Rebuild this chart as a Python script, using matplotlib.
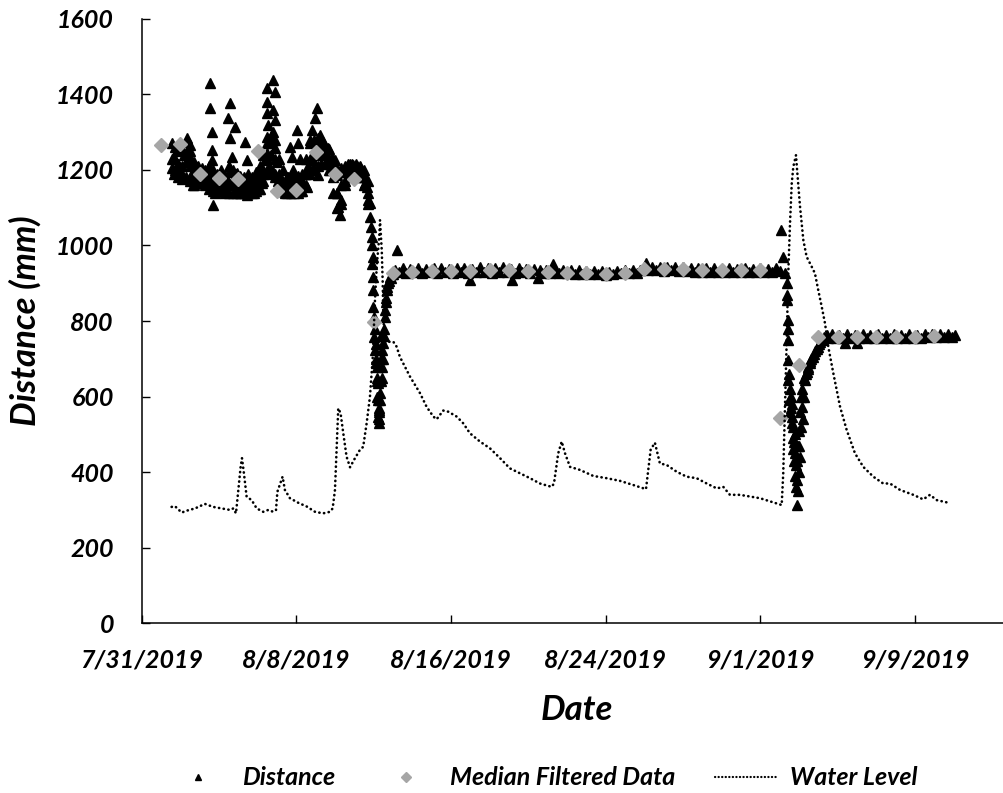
import datetime as dt
import matplotlib
matplotlib.use("Agg")
import matplotlib.pyplot as plt
from matplotlib.lines import Line2D

plt.rcParams['font.family'] = ['Lato', 'DejaVu Sans']
plt.rcParams['font.weight'] = 'bold'
plt.rcParams['font.style'] = 'italic'
plt.rcParams['axes.labelweight'] = 'bold'

# day offsets are days after 7/31/2019 00:00
start = dt.date(2019, 7, 31)
tick_days = [0, 8, 16, 24, 32, 40]

# Distance (triangles) as (day, mm)
early = [(1.55, 1270), (1.55, 1230), (1.55, 1204), (1.65, 1190), (1.81, 1252), (1.9, 1215),
         (2.0, 1200), (2.1, 1180), (2.2, 1240), (2.33, 1283), (2.4, 1250), (2.5, 1266),
         (2.5, 1235), (2.59, 1191), (2.67, 1160), (2.75, 1175), (2.85, 1208), (2.95, 1185),
         (3.1, 1186), (3.2, 1165), (3.36, 1173), (3.45, 1200), (3.53, 1429), (3.53, 1363),
         (3.62, 1301), (3.62, 1252), (3.62, 1226), (3.65, 1180), (3.70, 1107), (3.62, 1155),
         (3.8, 1140), (3.96, 1182), (4.05, 1150), (4.1, 1200), (4.22, 1164), (4.3, 1145),
         (4.4, 1170), (4.48, 1336), (4.57, 1376), (4.57, 1283), (4.5, 1210), (4.66, 1235),
         (4.74, 1160), (4.83, 1314), (4.91, 1191), (5.0, 1150), (5.09, 1182), (5.09, 1138),
         (5.2, 1160), (5.34, 1274), (5.43, 1226), (5.43, 1133), (5.5, 1190), (5.6, 1145),
         (5.69, 1151), (5.8, 1140), (5.86, 1169), (5.95, 1180), (6.05, 1150), (6.12, 1200),
         (6.2, 1165), (6.3, 1190), (6.38, 1226), (6.47, 1416), (6.47, 1380), (6.47, 1350),
         (6.47, 1288), (6.47, 1244), (6.55, 1319), (6.6, 1270), (6.6, 1210), (6.7, 1240),
         (6.81, 1438), (6.81, 1358), (6.81, 1301), (6.81, 1279), (6.81, 1195), (6.9, 1407),
         (6.9, 1332), (6.9, 1257), (6.9, 1182), (7.0, 1220), (7.05, 1170), (7.16, 1164),
         (7.25, 1145), (7.33, 1151), (7.42, 1140), (7.5, 1160), (7.58, 1182), (7.67, 1261),
         (7.76, 1235), (7.85, 1200), (7.93, 1150), (8.02, 1305), (8.02, 1155), (8.1, 1270),
         (8.2, 1230), (8.25, 1145), (8.36, 1164), (8.45, 1190), (8.54, 1155), (8.6, 1210),
         (8.71, 1279), (8.79, 1305), (8.88, 1226), (8.88, 1204), (8.97, 1336), (9.05, 1363),
         (9.05, 1260), (9.14, 1186), (9.22, 1292), (9.3, 1240), (9.39, 1274), (9.5, 1245),
         (9.55, 1220), (9.65, 1257), (9.75, 1200), (9.83, 1235), (9.9, 1210), (10.0, 1226),
         (10.09, 1186), (10.09, 1138), (10.17, 1102), (10.26, 1080), (10.3, 1120), (10.43, 1195),
         (10.5, 1160), (10.6, 1208), (10.7, 1185), (10.8, 1215), (10.95, 1213), (11.05, 1190),
         (11.15, 1210), (11.29, 1208), (11.35, 1180), (11.46, 1191), (11.55, 1164), (11.64, 1155),
         (11.72, 1120), (11.81, 1076), (11.81, 1111), (11.9, 1023), (11.85, 1050), (11.9, 1000),
         (11.92, 950)]

# the dense black body of the first week: low / middle / high edge of the mass
early_core = [(1.7, 1200), (1.7, 1230), (1.7, 1260), (1.9, 1180), (1.9, 1215), (1.9, 1250),
              (2.1, 1175), (2.1, 1210), (2.1, 1255), (2.3, 1180), (2.3, 1220), (2.3, 1275),
              (2.5, 1170), (2.5, 1210), (2.5, 1250), (2.7, 1160), (2.7, 1190), (2.7, 1220),
              (2.9, 1165), (2.9, 1190), (2.9, 1210), (3.1, 1165), (3.1, 1185), (3.1, 1205),
              (3.3, 1160), (3.3, 1180), (3.3, 1200), (3.5, 1150), (3.5, 1175), (3.5, 1210),
              (3.7, 1145), (3.7, 1170), (3.7, 1200), (3.9, 1145), (3.9, 1165), (3.9, 1190),
              (4.1, 1145), (4.1, 1165), (4.1, 1185), (4.3, 1140), (4.3, 1160), (4.3, 1185),
              (4.5, 1140), (4.5, 1165), (4.5, 1195), (4.7, 1140), (4.7, 1170), (4.7, 1200),
              (4.9, 1138), (4.9, 1160), (4.9, 1190), (5.1, 1138), (5.1, 1160), (5.1, 1185),
              (5.3, 1140), (5.3, 1160), (5.3, 1180), (5.5, 1140), (5.5, 1155), (5.5, 1175),
              (5.7, 1140), (5.7, 1160), (5.7, 1180), (5.9, 1145), (5.9, 1170), (5.9, 1195),
              (6.1, 1150), (6.1, 1180), (6.1, 1210), (6.3, 1170), (6.3, 1200), (6.3, 1240),
              (6.5, 1190), (6.5, 1230), (6.5, 1270), (6.7, 1200), (6.7, 1240), (6.7, 1290),
              (6.9, 1190), (6.9, 1230), (6.9, 1280), (7.1, 1160), (7.1, 1190), (7.1, 1230),
              (7.3, 1145), (7.3, 1165), (7.3, 1200), (7.5, 1140), (7.5, 1160), (7.5, 1180),
              (7.7, 1140), (7.7, 1160), (7.7, 1185), (7.9, 1140), (7.9, 1160), (7.9, 1180),
              (8.1, 1140), (8.1, 1160), (8.1, 1185), (8.3, 1145), (8.3, 1165), (8.3, 1190),
              (8.5, 1160), (8.5, 1190), (8.5, 1230), (8.7, 1190), (8.7, 1230), (8.7, 1270),
              (8.9, 1200), (8.9, 1240), (8.9, 1280), (9.1, 1210), (9.1, 1245), (9.1, 1285),
              (9.3, 1215), (9.3, 1245), (9.3, 1275), (9.5, 1215), (9.5, 1240), (9.5, 1265),
              (9.7, 1200), (9.7, 1230), (9.7, 1255), (9.9, 1140), (9.9, 1180), (9.9, 1220),
              (10.1, 1100), (10.1, 1140), (10.1, 1200), (10.3, 1110), (10.3, 1160), (10.3, 1205),
              (10.5, 1170), (10.5, 1195), (10.5, 1210), (10.7, 1180), (10.7, 1200), (10.7, 1215),
              (10.9, 1185), (10.9, 1200), (10.9, 1215), (11.1, 1185), (11.1, 1200), (11.1, 1215),
              (11.3, 1180), (11.3, 1195), (11.3, 1210), (11.5, 1160), (11.5, 1180), (11.5, 1200),
              (11.7, 1110), (11.7, 1140), (11.7, 1170)]

drop1 = [(11.98, 970), (11.95, 917), (11.95, 882), (11.95, 838), (12.02, 811), (12.02, 758),
         (12.07, 723), (12.1, 700), (12.16, 679), (12.2, 650), (12.24, 635), (12.24, 600),
         (12.24, 591), (12.28, 565), (12.24, 547), (12.28, 529), (12.3, 560), (12.35, 610),
         (12.42, 723), (12.42, 679), (12.45, 650), (12.5, 741), (12.55, 780), (12.59, 811),
         (12.63, 850), (12.67, 882), (12.75, 900), (12.85, 917), (12.95, 925), (13.1, 935),
         (13.19, 988), (12.05, 780), (12.1, 740), (12.12, 690), (12.18, 640), (12.2, 600),
         (12.26, 570), (12.3, 540), (12.32, 590), (12.36, 640), (12.38, 700), (12.4, 760),
         (12.48, 700), (12.52, 760), (12.6, 830), (12.65, 860), (12.7, 890), (12.8, 905),
         (12.9, 915), (13.0, 925)]

plateau1 = [(13.3, 930), (13.5, 940), (13.7, 928), (13.9, 938), (14.1, 930), (14.3, 940),
            (14.5, 928), (14.7, 938), (14.9, 930), (15.1, 940), (15.3, 928), (15.5, 940),
            (15.7, 930), (15.9, 938), (16.1, 928), (16.3, 940), (16.5, 930), (16.7, 940),
            (16.9, 928), (17.0, 908), (17.1, 938), (17.3, 930), (17.5, 942), (17.7, 930),
            (17.9, 940), (18.1, 928), (18.3, 940), (18.5, 930), (18.7, 942), (18.9, 930),
            (19.15, 908), (19.1, 938), (19.3, 928), (19.5, 940), (19.7, 930), (19.9, 938),
            (20.1, 928), (20.3, 938), (20.5, 913), (20.6, 936), (20.7, 928), (20.9, 936),
            (21.1, 926), (21.3, 950), (21.4, 934), (21.6, 926), (21.8, 934), (22.0, 926),
            (22.2, 934), (22.4, 924), (22.6, 934), (22.8, 924), (23.0, 932), (23.2, 924),
            (23.4, 932), (23.6, 924), (23.8, 932), (24.0, 922), (24.2, 930), (24.4, 924),
            (24.6, 932), (24.8, 926), (25.0, 934), (25.2, 926), (25.4, 934), (25.6, 928),
            (25.8, 936), (26.0, 940), (26.1, 953), (26.2, 934), (26.4, 944), (26.6, 934),
            (26.8, 942), (27.0, 932), (27.2, 942), (27.4, 934), (27.6, 942), (27.8, 932),
            (28.0, 942), (28.2, 932), (28.4, 940), (28.6, 930), (28.8, 940), (29.0, 930),
            (29.2, 940), (29.4, 930), (29.6, 940), (29.8, 930), (30.0, 938), (30.2, 930),
            (30.4, 940), (30.6, 930), (30.8, 938), (31.0, 930), (31.2, 940), (31.4, 930),
            (31.6, 938), (31.8, 930), (32.0, 940), (32.2, 930), (32.4, 938), (32.6, 930),
            (32.8, 940), (33.0, 932), (33.1, 1041), (33.19, 970)]

drop2 = [(33.3, 926), (33.37, 900), (33.37, 855), (33.42, 802), (33.42, 750), (33.45, 697),
         (33.45, 644), (33.5, 591), (33.55, 560), (33.6, 598), (33.65, 545), (33.69, 520),
         (33.72, 490), (33.75, 480), (33.8, 450), (33.85, 420), (33.88, 313), (33.9, 380),
         (33.95, 350), (34.0, 400), (34.03, 470), (34.06, 440), (34.1, 520), (34.14, 573),
         (34.2, 540), (34.25, 600), (34.31, 644), (34.4, 665), (34.49, 679), (34.6, 695),
         (34.74, 705), (34.85, 720), (35.0, 732), (35.1, 745), (35.18, 750), (35.3, 758),
         (35.44, 763), (33.4, 870), (33.43, 780), (33.47, 660), (33.52, 620), (33.58, 570),
         (33.62, 530), (33.66, 580), (33.7, 460), (33.74, 430), (33.78, 500), (33.82, 390),
         (33.86, 360), (33.92, 430), (33.96, 470), (34.0, 510), (34.05, 560), (34.12, 600),
         (34.18, 620), (34.28, 650), (34.35, 660), (34.45, 672), (34.55, 688), (34.65, 700),
         (34.8, 712), (34.95, 725), (35.05, 738), (35.25, 752), (35.4, 758)]

plateau2 = [(35.5, 756), (35.7, 766), (35.9, 756), (36.1, 764), (36.3, 756), (36.4, 742),
            (36.5, 766), (36.7, 756), (36.9, 764), (37.0, 741), (37.1, 756), (37.3, 766),
            (37.5, 756), (37.7, 764), (37.9, 756), (38.1, 766), (38.3, 756), (38.5, 764),
            (38.7, 756), (38.9, 766), (39.1, 756), (39.3, 764), (39.5, 756), (39.7, 766),
            (39.9, 756), (40.1, 764), (40.3, 756), (40.5, 766), (40.7, 758), (40.9, 766),
            (41.1, 758), (41.3, 766), (41.5, 758), (41.7, 766), (41.9, 758), (42.05, 764)]

# Median filtered data, one value per day
med_day = list(range(1, 42))
med_mm = [1266, 1268, 1189, 1178, 1175, 1251, 1145, 1147, 1248, 1189, 1176, 798, 926, 930,
          933, 933, 933, 935, 935, 933, 930, 928, 928, 925, 928, 937, 937, 937, 935, 935,
          935, 935, 542, 683, 757, 757, 757, 757, 757, 757, 760]

# Water level (dotted line)
water = [(1.55, 308), (1.72, 310), (2.07, 293), (2.33, 298), (2.76, 304), (3.27, 316),
         (3.70, 308), (4.14, 304), (4.57, 300), (4.74, 304), (4.88, 291), (5.0, 353),
         (5.12, 414), (5.19, 437), (5.29, 397), (5.43, 335), (5.69, 326), (5.95, 304),
         (6.29, 295), (6.55, 300), (6.81, 295), (6.95, 300), (7.02, 348), (7.29, 388),
         (7.41, 353), (7.67, 331), (8.10, 319), (8.54, 309), (8.97, 295), (9.39, 291),
         (9.74, 295), (9.88, 304), (10.0, 353), (10.09, 467), (10.17, 569), (10.29, 556),
         (10.43, 503), (10.6, 441), (10.78, 413), (10.98, 432), (11.29, 459), (11.46, 467),
         (11.64, 530), (11.81, 600), (11.95, 700), (12.07, 856), (12.16, 944), (12.29, 1023),
         (12.33, 1067), (12.42, 988), (12.47, 900), (12.5, 811), (12.59, 741), (12.76, 745),
         (13.02, 745), (13.19, 732), (13.36, 705), (13.88, 653), (14.4, 609), (14.74, 573),
         (15.09, 547), (15.26, 540), (15.6, 563), (15.86, 560), (16.3, 547), (16.64, 529),
         (16.98, 503), (17.5, 481), (18.02, 463), (18.54, 437), (19.05, 410), (19.57, 397),
         (20.09, 384), (20.6, 370), (21.21, 361), (21.33, 370), (21.55, 450), (21.73, 481),
         (21.9, 450), (22.16, 414), (22.67, 406), (23.36, 390), (24.06, 384), (24.74, 377),
         (25.43, 366), (26.09, 355), (26.21, 406), (26.33, 459), (26.55, 478), (26.81, 423),
         (27.16, 419), (27.68, 401), (28.19, 388), (28.71, 384), (29.23, 370), (29.75, 357),
         (30.09, 361), (30.43, 340), (30.95, 340), (31.99, 331), (33.11, 313), (33.19, 397),
         (33.28, 573), (33.37, 750), (33.45, 926), (33.54, 1058), (33.63, 1164), (33.71, 1208),
         (33.85, 1239), (33.92, 1191), (34.06, 1102), (34.23, 1014), (34.4, 970), (34.66, 944),
         (34.83, 926), (35.0, 882), (35.18, 838), (35.35, 794), (35.52, 732), (35.78, 662),
         (36.13, 573), (36.47, 512), (36.9, 450), (37.33, 414), (37.85, 388), (38.36, 370),
         (38.71, 370), (39.23, 353), (39.92, 340), (40.43, 328), (40.78, 340), (41.13, 326),
         (41.47, 322), (41.82, 318)]

dist = early + early_core + drop1 + plateau1 + drop2 + plateau2
dist_day = [p[0] for p in dist]
dist_mm = [p[1] for p in dist]
water_day = [p[0] for p in water]
water_mm = [p[1] for p in water]

fig = plt.figure(figsize=(10.04, 7.93), dpi=100)
ax = fig.add_axes([0.1411, 0.2140, 0.8664, 0.7624])

ax.plot(dist_day, dist_mm, linestyle='none', marker='^', markersize=7,
        color='black', zorder=2)
ax.plot(med_day, med_mm, linestyle='none', marker='D', markersize=7.5,
        color='#a6a6a6', zorder=3)
ax.plot(water_day, water_mm, color='black', linewidth=1.9,
        linestyle=(0, (0.1, 1.7)), dash_capstyle='round', zorder=4)

ax.set_xlim(0, 45)
ax.set_ylim(0, 1600)
ax.set_xticks(tick_days)
ax.set_xticklabels([(start + dt.timedelta(days=d)).strftime('%-m/%-d/%Y') for d in tick_days])
ax.set_yticks(range(0, 1601, 200))

for s in ['top', 'right']:
    ax.spines[s].set_visible(False)
for s in ['left', 'bottom']:
    ax.spines[s].set_linewidth(1.1)

ax.tick_params(axis='both', direction='in', length=6, width=1, labelsize=18)
ax.tick_params(axis='x', pad=18)
ax.tick_params(axis='y', pad=20)

ax.set_xlabel('Date', fontsize=25, labelpad=16)
ax.set_ylabel('Distance (mm)', fontsize=25, labelpad=10)

handles = [
    Line2D([], [], linestyle='none', marker='^', markersize=5, color='black'),
    Line2D([], [], linestyle='none', marker='D', markersize=5, color='#a6a6a6'),
    Line2D([], [], color='black', linewidth=1.6, linestyle=(0, (0.1, 1.5)),
           dash_capstyle='round'),
]
fig.legend(handles, ['Distance', 'Median Filtered Data', 'Water Level'],
           loc='center', bbox_to_anchor=(0.54, 0.019), ncol=3, frameon=False,
           fontsize=18, handlelength=2.5, handletextpad=0.5, columnspacing=1.6)

fig.savefig('out.png', dpi=100)
